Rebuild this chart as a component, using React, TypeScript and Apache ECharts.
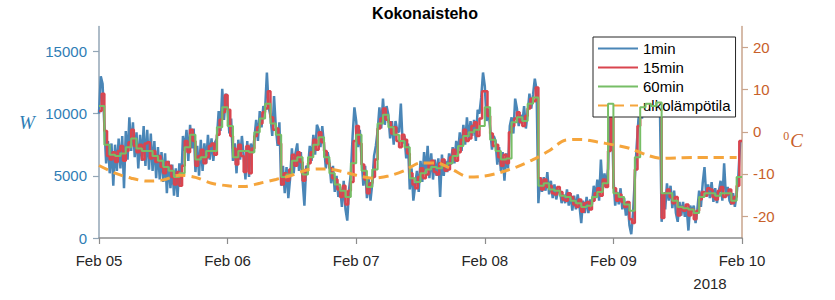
import React, { useEffect, useRef } from "react";
import * as echarts from "echarts";

const titleText = "Kokonaisteho";
const dayLabels = ["Feb 05", "Feb 06", "Feb 07", "Feb 08", "Feb 09", "Feb 10"];
const yearLabel = "2018";
const powerTicks = [0, 5000, 10000, 15000];
const tempTicks = [-20, -10, 0, 10, 20];
const seriesNames = ["1min", "15min", "60min", "ulkolämpötila"];

// 60 min mean power (W), one value per hour from Feb 05 00:00
const p60 = [
  10600, 7500, 6700, 6600, 6800, 7300, 8000, 7200, 7000, 7000, 6600, 6200, 5700, 5400, 4900, 5200, 7300, 8300, 6300, 6500, 7000, 7000, 8900, 10500,
  9000, 6500, 7000, 7000, 6900, 8500, 9600, 10800, 9200, 8300, 4900, 5100, 6200, 6500, 5100, 6500, 7500, 8100, 6500, 5200, 4300, 3800, 3300, 6000,
  8300, 5400, 4100, 5500, 9200, 9900, 8900, 8300, 7800, 7300, 4800, 4500, 5200, 5500, 5700, 5600, 5800, 6000, 6600, 7400, 8200, 8500, 8700, 9000,
  10500, 7900, 7000, 6300, 6400, 9300, 9700, 9400, 10800, 11300, 4200, 4400, 3900, 3800, 3400, 3300, 3000, 2800, 2500, 2600, 3300, 3700, 4400, 10800,
  3600, 3300, 2700, 2200, 6500, 10500, 10800, 10600, 10900, 3600, 3600, 3000, 2500, 2400, 2300, 2000, 3300, 3600, 3600, 3400, 3600, 3600, 3000, 4900,
];

// 15 min power (W), shown every 30 min
const p15 = [
  10200, 11600, 8600, 6600, 6300, 6900, 6100, 7000, 7400, 6200, 7000, 7700, 8700, 7400, 6900, 7500, 6300, 7600, 7700, 6400, 7000, 6100, 6600, 5700,
  5200, 6100, 5800, 4900, 4300, 5300, 4200, 5800, 7800, 6900, 8700, 7800, 5800, 6600, 7100, 6000, 6500, 7400, 7600, 6700, 8300, 9500, 10100, 11500,
  10300, 8200, 7200, 5900, 7500, 6600, 5300, 7400, 5200, 7200, 8200, 8900, 9200, 10100, 10400, 11800, 9700, 8700, 8800, 7600, 4300, 5200, 4600, 5500,
  6700, 5800, 6900, 6100, 4600, 5500, 6000, 6900, 7900, 7100, 8500, 7700, 7000, 6000, 5600, 4800, 4700, 3900, 3300, 4200, 2700, 3800, 4500, 7800,
  9000, 7600, 5900, 4700, 3600, 4400, 4900, 6300, 8800, 9600, 10400, 9500, 9300, 8400, 8900, 7800, 7300, 8300, 7900, 6800, 5200, 4300, 4000, 4900,
  5600, 4800, 5100, 5900, 6200, 5300, 5100, 6000, 6300, 5400, 5500, 6500, 7100, 6200, 6900, 7900, 8700, 7800, 8000, 9000, 9300, 8200, 9600, 11800,
  11800, 9800, 8400, 7400, 7500, 6500, 5800, 6700, 6000, 8500, 9000, 9600, 10100, 9300, 9000, 9800, 10400, 11200, 11000, 12100, 4800, 3900, 4700, 4100,
  4200, 3600, 3500, 4100, 3700, 3100, 3000, 3600, 3300, 2700, 2500, 3100, 2100, 2800, 2900, 2300, 3000, 3600, 4000, 3400, 4700, 4100, 7000, 11000,
  4000, 3000, 3500, 2900, 2500, 2900, 1500, 1200, 5500, 9000, 10400, 11000, 11000, 10500, 10300, 10900, 11200, 10700, 1600, 3600, 3900, 3300, 2800, 3300,
  1800, 2500, 2200, 2700, 1800, 2300, 1500, 2200, 3100, 3700, 3400, 4000, 3900, 3300, 3100, 3800, 4100, 3300, 3500, 3900, 2800, 3300, 4200, 7800,
];

// 1 min power (W), shown every 20 min
const p1 = [
  10000, 13000, 12400, 9000, 6000, 7800, 5200, 7600, 4200, 7500, 5400, 8000, 5600, 8200, 4000, 8600, 6300, 9700, 7000, 9300, 6500, 8500, 5600, 8300,
  6200, 9000, 5800, 8700, 5500, 8400, 5400, 7800, 4800, 7300, 4700, 6900, 4500, 6800, 3600, 6200, 4000, 5900, 3400, 5600, 3300, 6000, 4300, 8200,
  7000, 8700, 6200, 9100, 7200, 8800, 5300, 7400, 5000, 7900, 5400, 7600, 6000, 8300, 6300, 8000, 6200, 7700, 8000, 10200, 8600, 12000, 9500, 11600,
  10300, 8400, 9600, 6200, 7600, 5200, 7900, 6300, 8200, 6600, 4700, 7800, 4900, 7600, 6800, 8000, 9500, 7800, 10200, 8900, 10600, 10300, 13300, 10500,
  9800, 8200, 11400, 8900, 7400, 9300, 4200, 5800, 3600, 5700, 3200, 4800, 7200, 5200, 6800, 7600, 5400, 6900, 4600, 2600, 5800, 5600, 7400, 6200,
  8300, 6700, 9100, 8700, 7300, 9000, 7400, 5600, 6900, 6100, 4400, 5800, 3700, 5000, 3300, 4100, 2500, 4600, 2300, 1400, 3900, 5200, 8200, 10500,
  9400, 7300, 8700, 6400, 4200, 5800, 3200, 4800, 3000, 4400, 6600, 7400, 8600, 10500, 8800, 11200, 9100, 10600, 9900, 8000, 9400, 7500, 9400, 8600,
  8500, 10800, 7600, 8200, 6400, 7600, 3900, 5600, 3000, 4200, 5400, 3700, 6200, 4500, 6900, 5100, 7400, 4800, 6800, 4700, 6300, 5000, 6400, 3300,
  6700, 5000, 6200, 5300, 6800, 5900, 7300, 6000, 7800, 6800, 8500, 7000, 9100, 7500, 9700, 7900, 9400, 8200, 9500, 7800, 10300, 10000, 11300, 13300,
  12200, 9400, 10400, 8800, 7100, 8200, 7800, 5900, 7300, 5400, 6900, 4600, 6800, 5600, 9000, 9700, 8400, 11200, 10400, 9000, 9900, 9200, 10600, 8800,
  10100, 11600, 10400, 11500, 12800, 11900, 2800, 4900, 3700, 4900, 3800, 5300, 3500, 4600, 3200, 4300, 3100, 3800, 3900, 2800, 3500, 2800, 3900, 2600,
  3600, 2200, 3400, 2300, 3500, 2600, 1200, 3000, 2000, 3300, 2000, 3100, 2700, 4200, 3200, 4700, 3000, 6300, 3800, 5200, 4100, 5600, 10800, 11500,
  4800, 2600, 3700, 2700, 4000, 2300, 3200, 1800, 2800, 1000, 300, 2000, 4800, 7300, 9500, 10400, 9600, 11200, 10300, 11400, 10500, 10800, 9900, 10600,
  11500, 10300, 11000, 1300, 3500, 2300, 4400, 3000, 4200, 2400, 3800, 2000, 1300, 2900, 1800, 2900, 1700, 2500, 600, 2600, 2100, 2600, 1200, 2300,
  3800, 2500, 4400, 5700, 3300, 4300, 3200, 4500, 2900, 4000, 2800, 3700, 4600, 3000, 6000, 3300, 4100, 3000, 2700, 3600, 2500, 3500, 5100, 7800,
];

// Outdoor temperature (°C)
const tempHours = [0, 3, 6, 9, 12, 15, 18, 21, 24, 27, 30, 33, 36, 39, 42, 45, 48, 51, 54, 57, 60, 63, 66, 69, 72, 75, 78, 81, 84, 87, 90, 93, 96, 99, 102, 105, 108, 111, 114, 117, 119];
const tempC = [
  -8.0, -9.8, -11.0, -11.7, -11.4, -10.3, -10.8, -12.2, -12.8, -13.0, -12.2, -11.3, -10.3, -9.0, -8.8, -9.3, -10.3, -11.0, -10.5, -9.2,
  -7.4, -7.4, -9.0, -10.7, -10.5, -9.6, -8.3, -6.6, -4.5, -2.0, -1.8, -2.4, -3.1, -3.9, -5.4, -6.3, -6.2, -6.1, -6.1, -6.1, -6.1,
];

const FONT = "'Liberation Sans', Arial, sans-serif";
const BLUE_TXT = "#2f7db5";
const ORANGE_TXT = "#c8602a";

export default function App() {
  const ref = useRef<HTMLDivElement>(null);
  useEffect(() => {
    if (!ref.current) return;
    const chart = echarts.init(ref.current, null, { renderer: "svg" });
    const d60: number[][] = p60.map((v, i) => [i, v]);
    d60.push([p60.length, p60[p60.length - 1]]);
    const d15: number[][] = p15.map((v, i) => [i / 2, v]);
    d15.push([p15.length / 2, p15[p15.length - 1]]);
    const d1: number[][] = p1.map((v, i) => [i / 3, v]);
    const dT: number[][] = tempHours.map((h, i) => [h, tempC[i]]);

    chart.setOption({
      animation: false,
      backgroundColor: "#fff",
      title: {
        text: titleText,
        left: 420,
        top: 0,
        textAlign: "center",
        textStyle: { fontFamily: FONT, fontSize: 16, fontWeight: "bold", color: "#000" },
      },
      legend: {
        orient: "vertical",
        left: 593,
        top: 37,
        padding: [4, 5, 4, 4],
        itemWidth: 40,
        itemHeight: 14,
        itemGap: 4,
        backgroundColor: "#fff",
        borderColor: "#262626",
        borderWidth: 1,
        borderRadius: 0,
        itemStyle: { opacity: 0 },
        textStyle: { fontFamily: FONT, fontSize: 15, color: "#000" },
        data: seriesNames,
      },
      grid: { left: 99, right: 93, top: 26.5, bottom: 62, outerBoundsMode: "none" },
      xAxis: {
        type: "value",
        min: 0,
        max: 120,
        interval: 24,
        axisLine: { show: true, lineStyle: { color: "#8c8c8c", width: 1.5 } },
        axisTick: { show: true, inside: false, length: 6, lineStyle: { color: "#8c8c8c", width: 1.2 } },
        axisLabel: {
          margin: 15,
          fontFamily: FONT,
          fontSize: 15,
          color: "#262626",
          formatter: (v: number) => dayLabels[Math.round(v / 24)] ?? "",
        },
        splitLine: { show: false },
      },
      yAxis: [
        {
          type: "value",
          min: 0,
          max: 17000,
          position: "left",
          axisLine: { show: true, lineStyle: { color: "#93a6b6", width: 1.5 } },
          axisTick: { show: true, length: 6, customValues: powerTicks, lineStyle: { color: "#93a6b6", width: 1.2 } },
          axisLabel: {
            customValues: powerTicks,
            margin: 12,
            fontFamily: FONT,
            fontSize: 15,
            color: BLUE_TXT,
            formatter: (v: number) => String(v),
          },
          splitLine: { show: false },
        },
        {
          type: "value",
          min: -25.2,
          max: 25,
          position: "right",
          axisLine: { show: true, lineStyle: { color: "#c9a48c", width: 1.5 } },
          axisTick: { show: true, length: 6, customValues: tempTicks, lineStyle: { color: "#c9a48c", width: 1.2 } },
          axisLabel: {
            customValues: tempTicks,
            margin: 11,
            fontFamily: FONT,
            fontSize: 15,
            color: ORANGE_TXT,
            formatter: (v: number) => String(v),
          },
          splitLine: { show: false },
        },
      ],
      graphic: [
        {
          type: "text",
          x: 27,
          y: 122,
          style: { text: "W", font: "italic 19px 'Liberation Serif', serif", fill: BLUE_TXT, align: "center", verticalAlign: "middle" },
        },
        {
          type: "text",
          x: 793,
          y: 140,
          style: {
            text: "{s|0}{c|C}",
            align: "center",
            verticalAlign: "middle",
            rich: {
              s: { fontFamily: "'Liberation Serif', serif", fontSize: 12, fill: ORANGE_TXT, color: ORANGE_TXT, padding: [0, 1, 8, 0] },
              c: { fontFamily: "'Liberation Serif', serif", fontStyle: "italic", fontSize: 19, fill: ORANGE_TXT, color: ORANGE_TXT },
            },
          },
        },
        {
          type: "text",
          x: 710,
          y: 283,
          style: { text: yearLabel, font: `15px ${FONT}`, fill: "#262626", align: "center", verticalAlign: "middle" },
        },
      ],
      series: [
        {
          name: seriesNames[0],
          type: "line",
          data: d1,
          symbol: "none",
          yAxisIndex: 0,
          lineStyle: { color: "#4a86b7", width: 2.5 },
          itemStyle: { color: "#4a86b7" },
          z: 2,
        },
        {
          name: seriesNames[1],
          type: "line",
          data: d15,
          step: "end",
          symbol: "none",
          yAxisIndex: 0,
          lineStyle: { color: "#d9454f", width: 2.5 },
          itemStyle: { color: "#d9454f" },
          z: 3,
        },
        {
          name: seriesNames[2],
          type: "line",
          data: d60,
          step: "end",
          symbol: "none",
          yAxisIndex: 0,
          lineStyle: { color: "#77be66", width: 2 },
          itemStyle: { color: "#77be66" },
          z: 4,
        },
        {
          name: seriesNames[3],
          type: "line",
          data: dT,
          smooth: 0.3,
          symbol: "none",
          yAxisIndex: 1,
          lineStyle: { color: "#f5a53c", width: 3, type: [10, 6] },
          itemStyle: { color: "#f5a53c" },
          z: 5,
        },
      ],
    });
    return () => chart.dispose();
  }, []);
  return <div ref={ref} style={{ position: "absolute", left: 0, top: 0, width: 835, height: 300 }} />;
}
